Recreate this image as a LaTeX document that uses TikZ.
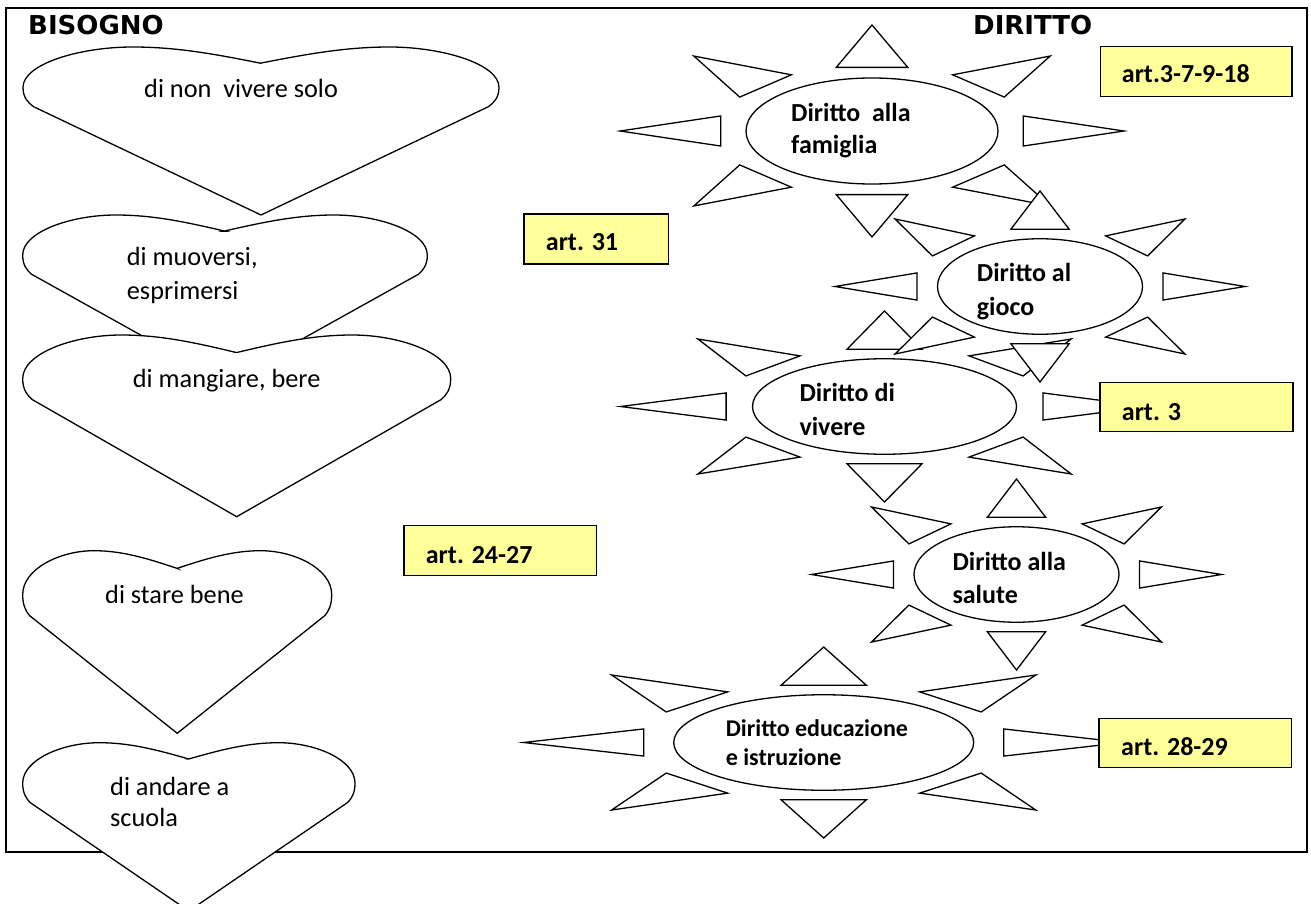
\documentclass[tikz,border=0pt]{standalone}
\usepackage{tikz}
\usepackage{fontspec}
\setmainfont{Carlito}
\newfontfamily\hdfont{DejaVu Sans}
\definecolor{artyellow}{HTML}{FFFF99}
\newcommand\heartshape[4]{%
 \begin{scope}[shift={(#1,#2)}, xscale=#3, yscale=#4]
   \draw[shapeline] (0.5,0.097) .. controls (0.4,0.04) and (0.32,0) .. (0.23,0)
     .. controls (0.12,0) and (0,0.1) .. (0,0.24)
     .. controls (0,0.3) and (0.01,0.33) .. (0.022,0.355) -- (0.5,1) -- (0.978,0.355)
     .. controls (0.99,0.33) and (1,0.3) .. (1,0.24)
     .. controls (1,0.1) and (0.88,0) .. (0.77,0)
     .. controls (0.68,0) and (0.6,0.04) .. cycle;
 \end{scope}}
\newcommand\sunshape[4]{%
 \begin{scope}[shift={(#1,#2)}, xscale=#3, yscale=#4]
  \draw[shapeline] (0.5,0) .. controls (0.5,0.27614) and (0.27614,0.5) .. (0,0.5)
     .. controls (-0.27614,0.5) and (-0.5,0.27614) .. (-0.5,0)
     .. controls (-0.5,-0.27614) and (-0.27614,-0.5) .. (0,-0.5)
     .. controls (0.27614,-0.5) and (0.5,-0.27614) .. (0.5,0) -- cycle;
  \draw[shapeline] (-0.142,-0.6) -- (0.142,-0.6) -- (0,-1) -- cycle;
  \draw[shapeline] (-0.142,0.6) -- (0.142,0.6) -- (0,1) -- cycle;
  \draw[shapeline] (-0.6,-0.142) -- (-0.6,0.142) -- (-1,0) -- cycle;
  \draw[shapeline] (0.6,-0.142) -- (0.6,0.142) -- (1,0) -- cycle;
  \draw[shapeline] (0.32,-0.53) -- (0.707,-0.707) -- (0.525,-0.32) -- cycle;
  \draw[shapeline] (-0.32,-0.53) -- (-0.707,-0.707) -- (-0.525,-0.32) -- cycle;
  \draw[shapeline] (0.32,0.53) -- (0.707,0.707) -- (0.525,0.32) -- cycle;
  \draw[shapeline] (-0.32,0.53) -- (-0.707,0.707) -- (-0.525,0.32) -- cycle;
 \end{scope}}
\begin{document}
\begin{tikzpicture}[x=1pt,y=-1pt,
  shapeline/.style={draw=black, line width=1.3pt, fill=white, line join=miter},
  artbox/.style={draw=black, line width=1.5pt, fill=artyellow, inner sep=0pt},
  arttext/.style={anchor=base west, inner sep=0pt, font=\fontsize{26}{31}\selectfont\bfseries},
  hearttext/.style={anchor=base west, inner sep=0pt, font=\fontsize{26.3}{31}\selectfont},
  suntext/.style={anchor=base west, inner sep=0pt, font=\fontsize{26}{31}\selectfont\bfseries},
  smallsuntext/.style={anchor=base west, inner sep=0pt, font=\fontsize{24}{28}\selectfont\bfseries},
  headtext/.style={anchor=base west, inner sep=0pt, font=\hdfont\bfseries\fontsize{26}{31}\selectfont},
]
\useasboundingbox (0,0) rectangle (1311,904);
\clip (0,0) rectangle (1311,904);
\fill[white] (0,0) rectangle (1311,904);
% frame
\draw[line width=2pt] (6,8) rectangle (1307,852);
% hearts
\heartshape{23}{47}{476}{168}
\heartshape{22.7}{215}{404.6}{167}
\heartshape{22.7}{335}{428}{181.7}
\heartshape{22.7}{550.7}{309}{182.6}
\heartshape{22.7}{742.7}{332.3}{168.3}
% suns
\sunshape{872}{131}{252}{106}
\sunshape{884.5}{406.5}{264}{95.5}
\sunshape{1040}{286.5}{205}{95.5}
\sunshape{1016.5}{574.5}{205}{95.5}
\sunshape{823.7}{742.5}{300}{95.5}
% boxes
\node[artbox, minimum width=191.3pt, minimum height=50pt] (box1) at (1196.35,71.7) {};
\node[artbox, minimum width=144.7pt, minimum height=50pt] (box2) at (596.35,239) {};
\node[artbox, minimum width=193pt, minimum height=49pt] (box3) at (1196.5,407.2) {};
\node[artbox, minimum width=192.7pt, minimum height=50pt] (box4) at (500.35,550.7) {};
\node[artbox, minimum width=192.4pt, minimum height=49.4pt] (box5) at (1195.2,743) {};
\node[arttext] (box1t) at (1121.7,82.7) {art.3-7-9-18};
\node[arttext] (box2t) at (545.7,250) {art. 31};
\node[arttext] (box3t) at (1121.7,420) {art. 3};
\node[arttext] (box4t) at (425.7,563.3) {art. 24-27};
\node[arttext] (box5t) at (1121,755) {art. 28-29};
% headers
\node[headtext] (bisogno) at (28,35) {BISOGNO};
\node[headtext] (diritto) at (973,34.3) {DIRITTO};
% heart texts
\node[hearttext] (h1) at (144,98) {di non\ \ vivere solo};
\node[hearttext] (h2a) at (126.7,265.7) {di muoversi,};
\node[hearttext] (h2b) at (126.7,299) {esprimersi};
\node[hearttext] (h3) at (132.7,387.3) {di mangiare, bere};
\node[hearttext] (h4) at (105,603.3) {di stare bene};
\node[hearttext] (h5a) at (110,795) {di andare a};
\node[hearttext] (h5b) at (110,826) {scuola};
% sun texts
\node[suntext] (s1a) at (791,121.7) {Diritto\ \ alla};
\node[suntext] (s1b) at (791,153.3) {famiglia};
\node[suntext] (s2a) at (976.7,281.7) {Diritto al};
\node[suntext] (s2b) at (976.7,315) {gioco};
\node[suntext] (s3a) at (799.3,401.7) {Diritto di};
\node[suntext] (s3b) at (799.3,435) {vivere};
\node[suntext] (s4a) at (952.3,570) {Diritto alla};
\node[suntext] (s4b) at (952.3,603.3) {salute};
\node[smallsuntext] (s5a) at (725.6,736) {Diritto educazione};
\node[smallsuntext] (s5b) at (725.6,765) {e istruzione};
\end{tikzpicture}
\end{document}
